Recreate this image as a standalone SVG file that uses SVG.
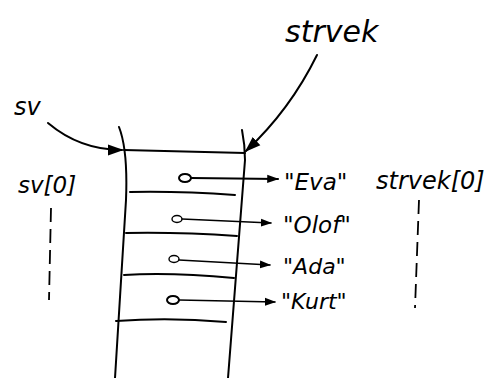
<svg xmlns="http://www.w3.org/2000/svg" width="504" height="378" viewBox="0 0 504 378">
<style>
.ln{fill:none;stroke:#000;stroke-width:2;stroke-linecap:round}
.th{fill:none;stroke:#000;stroke-width:1.4;stroke-linecap:round}
.t{font-family:"DejaVu Sans","Liberation Sans",sans-serif;font-style:italic;fill:#000}
.dash{fill:none;stroke:#000;stroke-width:1.8;stroke-dasharray:14 7}
</style>
<defs>
<marker id="ah" viewBox="0 0 10 10" refX="9" refY="5" markerWidth="6" markerHeight="6" orient="auto" markerUnits="strokeWidth"><path d="M0,1.5 L10,5 L0,8.5 Z" fill="#000"/></marker>
<marker id="ahs" viewBox="0 0 10 10" refX="9" refY="5" markerWidth="8" markerHeight="8" orient="auto" markerUnits="strokeWidth"><path d="M0,1.5 L10,5 L0,8.5 Z" fill="#000"/></marker>
<marker id="ahb" viewBox="0 0 10 10" refX="9" refY="5" markerWidth="6" markerHeight="6" orient="auto" markerUnits="strokeWidth"><path d="M0,1 L10,5 L0,9 Z" fill="#000"/></marker>
</defs>
<rect width="504" height="378" fill="#fff"/>
<g id="array">
<path class="ln" d="M119,127 Q128,150 126,200 L115,378"/>
<path class="ln" d="M242,130 Q245,145 245,160 L228,378"/>
<path class="ln" d="M124,150 L245,153"/>
<path class="ln" d="M130,192 Q180,191 235,195"/>
<path class="ln" d="M126,233 Q180,232 237,236"/>
<path class="ln" d="M124,275 Q170,272 234,278"/>
<path class="ln" d="M116,321 Q170,317 226,322"/>
</g>
<g id="label-strvek"><text class="t" x="285" y="42" font-size="30">strvek</text></g>
<g id="label-sv"><text class="t" x="14" y="115" font-size="24">sv</text></g>
<g id="label-sv0"><text class="t" x="18" y="193" font-size="23">sv[0]</text></g>
<g id="label-strvek0"><text class="t" x="376" y="189" font-size="24">strvek[0]</text></g>
<g id="s-eva"><text class="t" x="284" y="190" font-size="23">"Eva"</text></g>
<g id="s-olof"><text class="t" x="283" y="233" font-size="23">"Olof"</text></g>
<g id="s-ada"><text class="t" x="283" y="274" font-size="22">"Ada"</text></g>
<g id="s-kurt"><text class="t" x="281" y="309" font-size="22">"Kurt"</text></g>
<g id="pointers">
<ellipse class="ln" cx="185" cy="178" rx="6" ry="4"/>
<ellipse class="th" cx="177" cy="219" rx="5" ry="3.5"/>
<ellipse class="th" cx="174" cy="259" rx="5" ry="3.5"/>
<ellipse class="ln" cx="173" cy="300" rx="6" ry="4"/>
</g>
<g id="connectors">
<path class="ln" d="M48,123 Q80,150 122,150" marker-end="url(#ahs)"/>
<path class="ln" d="M317,55 Q290,110 246,151" stroke-width="2.4" marker-end="url(#ahs)"/>
<path class="ln" d="M191,178 L278,179" marker-end="url(#ah)"/>
<path class="th" d="M182,219 L271,223" marker-end="url(#ahs)"/>
<path class="th" d="M179,260 L270,265" marker-end="url(#ahs)"/>
<path class="th" d="M179,300 L275,302" marker-end="url(#ahs)"/>
<path class="dash" d="M51,208 L49,300"/>
<path class="dash" d="M419,200 L415,308"/>
</g>
</svg>
